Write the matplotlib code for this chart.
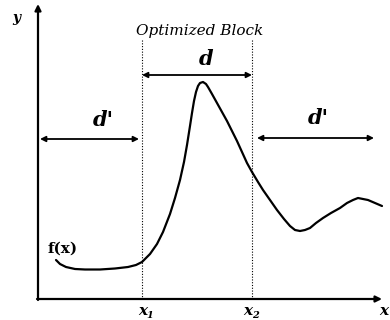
import matplotlib
matplotlib.use("Agg")
import matplotlib.pyplot as plt

# Curve f(x) (pixel coordinates, y downward)
curve_x = [56, 60, 66, 75, 85, 100, 115, 128, 136, 142, 150, 157, 163, 170, 175, 180,
           184, 187, 190, 192, 194, 196, 198, 200, 203, 206, 208, 212, 217, 222, 227,
           232, 237, 242, 247, 252, 258, 263, 270, 277, 284, 290, 295, 300, 305, 310,
           316, 323, 331, 340, 347, 353, 358, 363, 368, 375, 382]
curve_y = [260, 264, 267, 269, 269.5, 269.5, 268.5, 267, 265, 262, 254, 244, 232, 214, 198, 180,
           162, 145, 126, 113, 101, 92, 86, 83, 82, 84, 87, 94, 103, 112, 121,
           131, 141, 152, 163, 172, 182, 190, 200, 210, 219, 226, 230, 231, 230, 228,
           223, 218, 213, 208, 203, 200, 198, 199, 200, 203, 206]

x1_pos = 142
x2_pos = 252
block_label = "Optimized Block"

fig = plt.figure(figsize=(3.9, 3.2), dpi=100)
ax = fig.add_axes([0, 0, 1, 1])
ax.set_xlim(0, 390)
ax.set_ylim(320, 0)
ax.axis("off")

serif = "DejaVu Serif"

# axes arrows
ax.annotate("", xy=(38, 4), xytext=(38, 300),
            arrowprops=dict(arrowstyle="-|>", lw=1.6, color="black", mutation_scale=9, shrinkA=0, shrinkB=0))
ax.annotate("", xy=(382, 299), xytext=(37, 299),
            arrowprops=dict(arrowstyle="-|>", lw=1.6, color="black", mutation_scale=9, shrinkA=0, shrinkB=0))
ax.text(16, 18, "y", fontsize=10, fontweight="bold", style="italic", family=serif, ha="center", va="center")
ax.text(384, 311, "x", fontsize=11, fontweight="bold", style="italic", family=serif, ha="center", va="center")

# dotted lines
for xp in (x1_pos, x2_pos):
    ax.plot([xp, xp], [40, 299], color="black", lw=0.8, ls=(0, (1, 1.5)))

# curve
ax.plot(curve_x, curve_y, color="black", lw=1.6, solid_capstyle="round", solid_joinstyle="round")

# double arrows
def darrow(xa, xb, y):
    ax.annotate("", xy=(xb, y), xytext=(xa, y),
                arrowprops=dict(arrowstyle="<|-|>", lw=1.3, color="black", mutation_scale=8, shrinkA=0, shrinkB=0))

darrow(x1_pos, x2_pos, 75)
darrow(40, 139, 139)
darrow(257, 374, 138)

ax.text(200, 31, block_label, fontsize=11, style="italic", family=serif, ha="center", va="center")
ax.text(206, 59, "d", fontsize=15, fontweight="bold", style="italic", family=serif, ha="center", va="center")
ax.text(103, 120, "d'", fontsize=15, fontweight="bold", style="italic", family=serif, ha="center", va="center")
ax.text(318, 118, "d'", fontsize=15, fontweight="bold", style="italic", family=serif, ha="center", va="center")

ax.text(63, 249, "f(x)", fontsize=11, fontweight="bold", family=serif, ha="center", va="center")

ax.text(143, 311, "x", fontsize=11, fontweight="bold", style="italic", family=serif, ha="center", va="center")
ax.text(150, 315, "1", fontsize=7, fontweight="bold", style="italic", family=serif, ha="center", va="center")
ax.text(248, 311, "x", fontsize=11, fontweight="bold", style="italic", family=serif, ha="center", va="center")
ax.text(255, 315, "2", fontsize=7, fontweight="bold", style="italic", family=serif, ha="center", va="center")

fig.savefig("out.png", dpi=100)
